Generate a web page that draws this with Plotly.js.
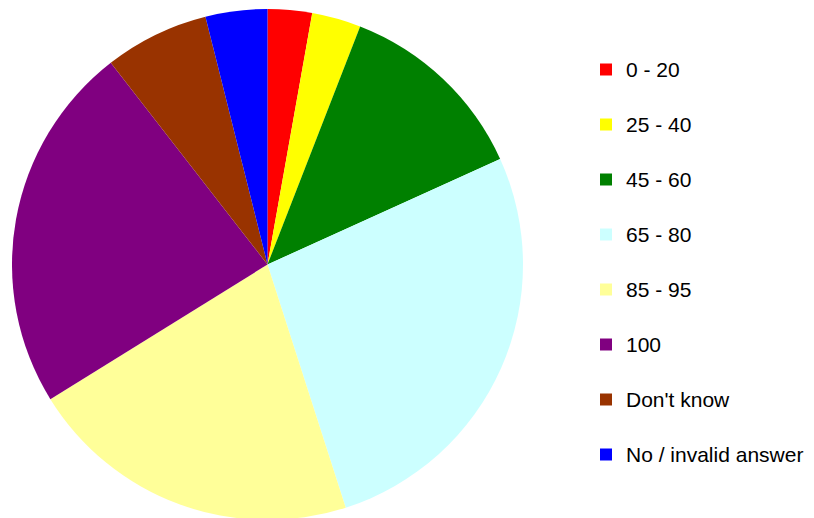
<!DOCTYPE html>
<html>
<head>
<meta charset="utf-8">
<script src="https://cdn.plot.ly/plotly-3.0.1.min.js"></script>
<style>
html,body{margin:0;padding:0;overflow:hidden;background:#fff;}
#chart{width:814px;height:522px;}
</style>
</head>
<body>
<div id="chart"></div>
<script>
const categories = ["0 - 20", "25 - 40", "45 - 60", "65 - 80", "85 - 95", "100", "Don't know", "No / invalid answer"];
const shares = [2.8, 3.1, 12.3, 26.8, 21.1, 23.3, 6.6, 3.9];
const sliceColors = ["#FF0000", "#FFFF00", "#008000", "#CCFFFF", "#FFFF99", "#800080", "#993300", "#0000FF"];

const legendLabels = categories.map(c => "<span style='font-size:21px'>" + c + "</span><br>&nbsp;");

const plotW = 814 - 12;
const trace = {
  type: "pie",
  labels: legendLabels,
  values: shares,
  marker: {colors: sliceColors, line: {width: 0}},
  sort: false,
  direction: "clockwise",
  rotation: 0,
  textinfo: "none",
  hoverinfo: "skip",
  domain: {x: [0, 511 / plotW], y: [0, 1]}
};

const layout = {
  width: 814,
  height: 522,
  margin: {l: 12, r: 0, t: 9, b: 2, autoexpand: false},
  paper_bgcolor: "#ffffff",
  plot_bgcolor: "#ffffff",
  showlegend: true,
  legend: {
    xref: "container", yref: "container",
    x: 586 / 814, xanchor: "left",
    y: 1 - 50 / 522, yanchor: "top",
    valign: "top",
    maxheight: 1,
    font: {family: "Liberation Sans, Arial, sans-serif", size: 20, color: "#000000"},
    bgcolor: "rgba(0,0,0,0)",
    borderwidth: 0
  }
};

Plotly.newPlot("chart", [trace], layout, {displayModeBar: false, staticPlot: true});
</script>
</body>
</html>
